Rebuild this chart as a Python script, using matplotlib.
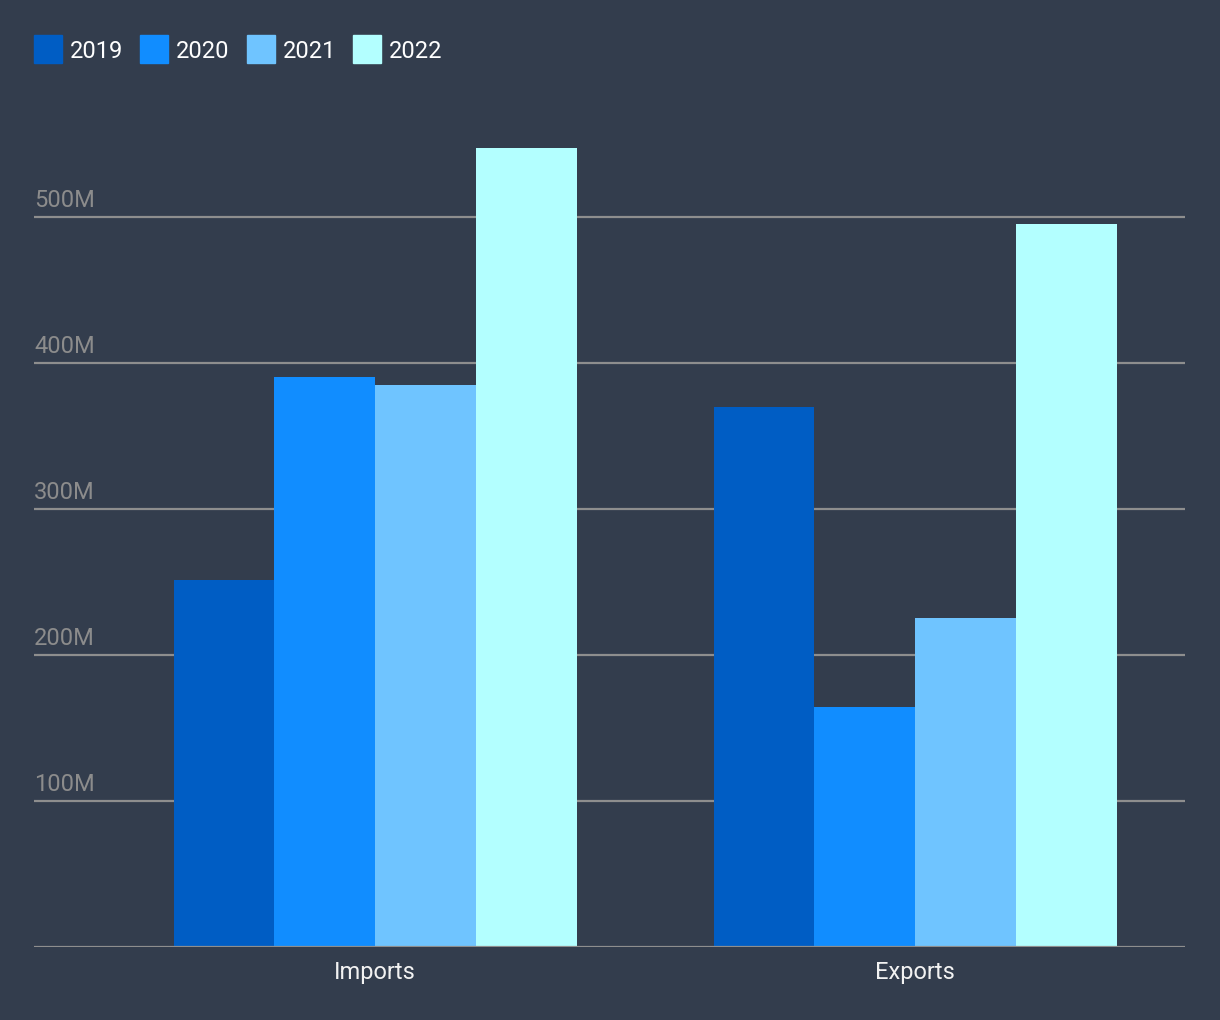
import matplotlib
matplotlib.use("Agg")
import matplotlib.pyplot as plt
from matplotlib.patches import Rectangle
import numpy as np

categories = ["Imports", "Exports"]
years = ["2019", "2020", "2021", "2022"]
values_2019 = [251, 370]
values_2020 = [390, 164]
values_2021 = [385, 225]
values_2022 = [547, 495]
series = [values_2019, values_2020, values_2021, values_2022]
colors = ["#005DC4", "#118DFF", "#6FC4FF", "#B3FFFF"]
yticks = [100, 200, 300, 400, 500]
ytick_labels = ["100M", "200M", "300M", "400M", "500M"]

BG = "#333D4D"
W, H = 1220, 1020
plt.rcParams["font.family"] = ["Roboto", "DejaVu Sans"]

fig = plt.figure(figsize=(W / 100 + 0.002, H / 100 + 0.002), dpi=100, facecolor=BG)
ax_left, ax_right = 34, 1185
ax_bottom = 947
ax_top = 80
ax = fig.add_axes([ax_left / W, 1 - ax_bottom / H, (ax_right - ax_left) / W, (ax_bottom - ax_top) / H])
ax.set_facecolor(BG)

px_per_unit = 540.0
x = np.arange(len(categories))
ax.set_xlim(-(375 - ax_left) / px_per_unit, 1 + (ax_right - 915) / px_per_unit)
px_per_M = 146 / 100.0
ax.set_ylim(0, (ax_bottom - ax_top) / px_per_M)

bw = 100.75 / px_per_unit
n = len(series)
for i, (vals, c) in enumerate(zip(series, colors)):
    ax.bar(x + (i - (n - 1) / 2) * bw, vals, width=bw, color=c, zorder=3, linewidth=0)

for t, lab in zip(yticks, ytick_labels):
    ax.axhline(t, color="#8E8E8E", linewidth=1.6, zorder=1)
    ax.text(0.0, t + 5 / px_per_M, lab, transform=ax.get_yaxis_transform(),
            ha="left", va="bottom", color="#8C8C8C", fontsize=17)
ax.axhline(0, color="#8E8E8E", linewidth=1.6, zorder=4)

ax.set_yticks([])
ax.set_xticks(x)
ax.set_xticklabels(categories, color="#F2F2F2", fontsize=17)
ax.tick_params(axis="x", length=0, pad=10)
for s in ax.spines.values():
    s.set_visible(False)

# legend
lx = 34
for yr, c in zip(years, colors):
    fig.patches.append(Rectangle((lx / W, 1 - 63.5 / H), 28 / W, 28 / H,
                                 transform=fig.transFigure, color=c, figure=fig))
    t = fig.text((lx + 36) / W, 1 - 51 / H, yr, color="#FFFFFF", fontsize=17,
                 ha="left", va="center")
    fig.canvas.draw()
    bb = t.get_window_extent()
    lx = bb.x1 + 17

fig.savefig("out.png", dpi=100, facecolor=BG)
